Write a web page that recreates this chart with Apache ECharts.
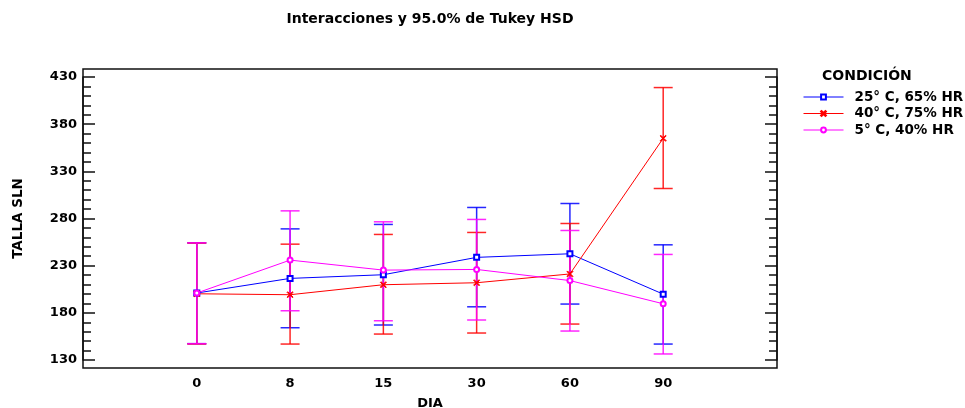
<!DOCTYPE html>
<html>
<head>
<meta charset="utf-8">
<script src="https://cdn.jsdelivr.net/npm/echarts@6/dist/echarts.min.js"></script>
<style>html,body{margin:0;padding:0;background:#fff;}#c{width:965px;height:408px;}</style>
</head>
<body>
<div id="c"></div>
<script>
var days = ['0', '8', '15', '30', '60', '90'];
var yTicks = [130, 180, 230, 280, 330, 380, 430];
var seriesNames = ['25° C, 65% HR', '40° C, 75% HR', '5° C, 40% HR'];

var mean25 = [201, 216.5, 220.4, 238.8, 242.6, 199.8];
var upper25 = [254.2, 269.0, 273.7, 291.7, 295.9, 252.1];
var lower25 = [147.3, 164.2, 167.1, 186.4, 189.3, 146.9];

var mean40 = [200.2, 199.2, 209.8, 211.9, 221.2, 365.0];
var upper40 = [254.0, 252.8, 263.1, 265.2, 274.7, 418.8];
var lower40 = [147.0, 146.9, 157.5, 158.6, 168.1, 311.8];

var mean5 = [201, 235.9, 225.3, 226.0, 214.2, 189.6];
var upper5 = [254.2, 288.1, 276.5, 279.0, 267.3, 241.9];
var lower5 = [147.3, 182.2, 171.6, 172.4, 160.7, 136.4];

var colors = ['#0000ff', '#ff0000', '#ff00ff'];
var FONT = '"DejaVu Sans", "Liberation Sans", Arial, sans-serif';

var chart = echarts.init(document.getElementById('c'), null, {renderer: 'canvas'});

function pts(arr) { return arr.map(function (v, i) { return [i, v]; }); }
function bars(lo, hi) { return lo.map(function (v, i) { return [i, v, hi[i]]; }); }

function errRender(color) {
  return function (params, api) {
    var x = api.value(0);
    var p1 = api.coord([x, api.value(1)]);
    var p2 = api.coord([x, api.value(2)]);
    var hw = 9.5;
    var st = {stroke: color, lineWidth: 1.5, opacity: 0.85};
    return {
      type: 'group',
      children: [
        {type: 'line', shape: {x1: p1[0], y1: p1[1], x2: p2[0], y2: p2[1]}, style: st},
        {type: 'line', shape: {x1: p1[0] - hw, y1: p1[1], x2: p1[0] + hw, y2: p1[1]}, style: st},
        {type: 'line', shape: {x1: p2[0] - hw, y1: p2[1], x2: p2[0] + hw, y2: p2[1]}, style: st}
      ]
    };
  };
}

var xMark = 'path://M0,1L1,0L5,4L9,0L10,1L6,5L10,9L9,10L5,6L1,10L0,9L4,5Z';

var lowers = [lower25, lower40, lower5];
var uppers = [upper25, upper40, upper5];
var means = [mean25, mean40, mean5];
var symbols = ['emptyRect', xMark, 'emptyCircle'];
var symSizes = [5, 6, 5];

var series = [];
for (var k = 0; k < 3; k++) {
  series.push({
    name: 'eb' + k,
    type: 'custom',
    xAxisIndex: 0, yAxisIndex: 0,
    renderItem: errRender(colors[k]),
    data: bars(lowers[k], uppers[k]),
    clip: false,
    silent: true,
    z: 2
  });
}
for (var k2 = 0; k2 < 3; k2++) {
  series.push({
    name: seriesNames[k2],
    type: 'line',
    xAxisIndex: 0, yAxisIndex: 0,
    data: pts(means[k2]),
    symbol: symbols[k2],
    symbolSize: symSizes[k2],
    showSymbol: true,
    color: colors[k2],
    lineStyle: {color: colors[k2], width: 1},
    itemStyle: {color: colors[k2], borderColor: colors[k2], borderWidth: 1},
    emphasis: {disabled: true},
    animation: false,
    z: 3
  });
}

var option = {
  animation: false,
  backgroundColor: '#fff',
  textStyle: {fontFamily: FONT},
  graphic: [
    {type: 'text', x: 430, y: 19, style: {text: 'Interacciones y 95.0% de Tukey HSD', font: 'bold 14px ' + FONT, fill: '#000', textAlign: 'center', textVerticalAlign: 'middle'}},
    {type: 'text', x: 822, y: 76, style: {text: 'CONDICIÓN', font: 'bold 14px ' + FONT, fill: '#000', textAlign: 'left', textVerticalAlign: 'middle'}}
  ],
  legend: {
    orient: 'vertical',
    left: 803,
    top: 90,
    padding: 0,
    itemWidth: 40,
    itemHeight: 6,
    itemGap: 2.5,
    data: seriesNames,
    lineStyle: {width: 1},
    textStyle: {fontFamily: FONT, fontWeight: 'bold', fontSize: 13.5, color: '#000', padding: [0, 0, 0, 6]},
    selectedMode: false
  },
  grid: [
    {left: 83, right: 188, top: 77, bottom: 48, show: false, containLabel: false, outerBoundsMode: 'none'},
    {left: 83, right: 188, top: 69, bottom: 40, show: true, borderColor: '#111', borderWidth: 1.5, backgroundColor: 'transparent', containLabel: false, outerBoundsMode: 'none'}
  ],
  xAxis: [
    {
      type: 'value', gridIndex: 0, min: -1.22, max: 6.22, interval: 0.02,
      axisLine: {show: false, onZero: false}, axisTick: {show: false}, splitLine: {show: false},
      axisLabel: {
        show: true, margin: 17, color: '#000', fontWeight: 'bold', fontSize: 13, fontFamily: FONT,
        formatter: function (v) {
          var r = Math.round(v);
          if (Math.abs(v - r) < 1e-6 && r >= 0 && r < days.length) return days[r];
          return '';
        }
      },
      name: 'DIA', nameLocation: 'middle', nameGap: 37,
      nameTextStyle: {color: '#000', fontWeight: 'bold', fontSize: 13, fontFamily: FONT}
    },
    {type: 'value', gridIndex: 1, show: false}
  ],
  yAxis: [
    {
      type: 'value', gridIndex: 0, min: yTicks[0], max: yTicks[yTicks.length - 1], interval: 50,
      position: 'left',
      axisLine: {show: true, onZero: false, lineStyle: {color: '#111', width: 1.5}},
      axisTick: {show: true, inside: true, length: 12, lineStyle: {color: '#111', width: 1.5}},
      minorTick: {show: true, splitNumber: 5, length: 8, lineStyle: {color: '#111', width: 1.5}},
      splitLine: {show: false},
      axisLabel: {show: true, margin: 6, color: '#000', fontWeight: 'bold', fontSize: 13, fontFamily: FONT},
      name: 'TALLA SLN', nameLocation: 'middle', nameGap: 58, nameRotate: 90,
      nameTextStyle: {color: '#000', fontWeight: 'bold', fontSize: 13.5, fontFamily: FONT}
    },
    {
      type: 'value', gridIndex: 0, min: yTicks[0], max: yTicks[yTicks.length - 1], interval: 50,
      position: 'right',
      axisLine: {show: true, onZero: false, lineStyle: {color: '#111', width: 1.5}},
      axisTick: {show: true, inside: true, length: 12, lineStyle: {color: '#111', width: 1.5}},
      minorTick: {show: true, splitNumber: 5, length: 8, lineStyle: {color: '#111', width: 1.5}},
      splitLine: {show: false},
      axisLabel: {show: false}
    },
    {type: 'value', gridIndex: 1, show: false}
  ],
  series: series
};
chart.setOption(option);
</script>
</body>
</html>
